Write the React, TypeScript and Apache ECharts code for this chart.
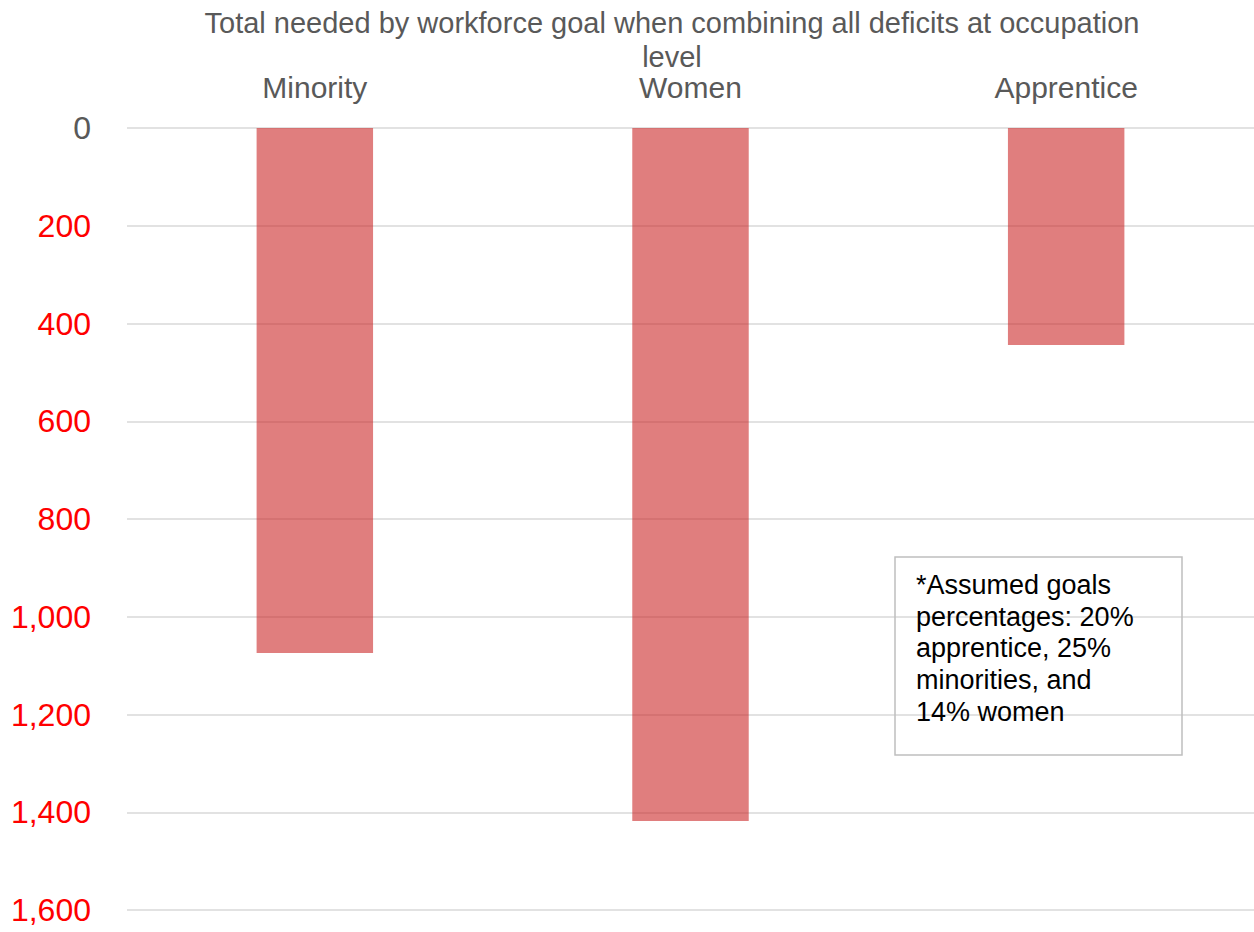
import React, { useEffect, useRef } from "react";
import * as echarts from "echarts";

const categories = ["Minority", "Women", "Apprentice"];
const totals = [1074, 1418, 444];
const yTicks = { min: 0, max: 1600, interval: 200 };
const titleText = "Total needed by workforce goal when combining all deficits at occupation\nlevel";
const noteText = "*Assumed goals\npercentages: 20%\napprentice, 25%\nminorities, and\n14% women";

const FONT = "'Liberation Sans', Arial, sans-serif";

export default function App() {
  const ref = useRef<HTMLDivElement>(null);
  useEffect(() => {
    if (!ref.current) return;
    const chart = echarts.init(ref.current, null, { renderer: "svg" });
    chart.setOption({
      animation: false,
      backgroundColor: "#ffffff",
      title: {
        text: titleText,
        left: 667,
        textAlign: "center",
        top: 1,
        textStyle: {
          fontFamily: FONT,
          fontSize: 29,
          fontWeight: "normal",
          color: "#595959",
          lineHeight: 34,
        },
      },
      grid: { left: 127, right: 0, top: 128, bottom: 22, containLabel: false },
      xAxis: {
        type: "category",
        data: categories,
        position: "top",
        axisLine: { show: false },
        axisTick: { show: false },
        axisLabel: {
          fontFamily: FONT,
          fontSize: 30,
          lineHeight: 30,
          color: "#595959",
          margin: 26,
        },
      },
      yAxis: {
        type: "value",
        inverse: true,
        min: yTicks.min,
        max: yTicks.max,
        interval: yTicks.interval,
        axisLine: { show: false },
        axisTick: { show: false },
        splitLine: { lineStyle: { color: "#d9d9d9", width: 1.5 } },
        axisLabel: {
          fontFamily: FONT,
          fontSize: 32,
          margin: 36,
          color: (v: any) => (Number(v) === 0 ? "#595959" : "#ff0000"),
          formatter: (v: number) => v.toLocaleString("en-US"),
        },
      },
      series: [
        {
          type: "bar",
          data: totals,
          barWidth: "31%",
          itemStyle: { color: "rgba(204,40,40,0.6)" },
        },
      ],
      graphic: [
        {
          type: "rect",
          shape: { x: 895, y: 557, width: 287, height: 198 },
          style: { fill: "rgba(255,255,255,0)", stroke: "#bfbfbf", lineWidth: 1.5 },
          z: 100,
        },
        {
          type: "text",
          x: 916,
          y: 569,
          z: 101,
          style: {
            text: noteText,
            fontFamily: FONT,
            fontSize: 27,
            lineHeight: 31.7,
            fill: "#000000",
            verticalAlign: "top",
          },
        },
      ],
    });
    return () => chart.dispose();
  }, []);
  return (
    <div
      ref={ref}
      style={{ position: "fixed", left: 0, top: 0, width: 1254, height: 932 }}
    />
  );
}
